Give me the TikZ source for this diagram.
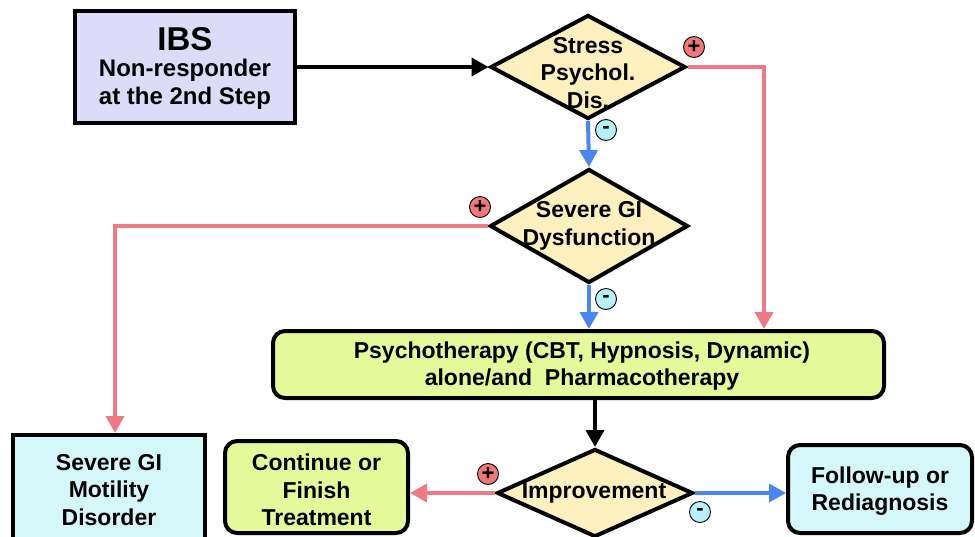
\documentclass[tikz,border=0pt]{standalone}
\usepackage{fontspec}
\setmainfont{Liberation Sans}
\usetikzlibrary{shapes.geometric,arrows.meta}
\definecolor{lav}{HTML}{DCDCF8}
\definecolor{dia}{HTML}{FBF0BE}
\definecolor{psy}{HTML}{E4F99A}
\definecolor{cya}{HTML}{D4F7FA}
\definecolor{redl}{HTML}{EE7A86}
\definecolor{bluel}{HTML}{4A86F2}
\definecolor{plusf}{HTML}{F07878}
\definecolor{minusf}{HTML}{B8F0F8}
\tikzset{
  x=1pt, y=-1pt,
  txt/.style={font=\bfseries\fontsize{23}{27.5}\selectfont, align=center, inner sep=0},
  boxsq/.style={draw, line width=4pt, inner sep=0},
  boxrd/.style={draw, line width=4pt, rounded corners=12pt, inner sep=0},
  dec/.style={draw, line width=4pt, diamond, fill=dia, inner sep=0},
  conn/.style={line width=4pt, -{Triangle[length=17pt,width=18pt]}},
  pluss/.style={circle, draw, line width=0.9pt, fill=plusf, minimum size=21pt, inner sep=0, font=\bfseries\fontsize{22}{22}\selectfont},
  minuss/.style={circle, draw, line width=0.9pt, fill=minusf, minimum size=21pt, inner sep=0, font=\bfseries\fontsize{22}{22}\selectfont}
}
\begin{document}
\begin{tikzpicture}
\useasboundingbox (0,0) rectangle (975,536);
\begin{scope}
\clip (0,0) rectangle (975,536);
% boxes
\node[boxsq, fill=lav, minimum width=220pt, minimum height=112pt] (ibs) at (185,67) {};
\node[txt, align=center] (ibst) at (185,68) {{\fontsize{33}{36}\selectfont IBS}\\[-1pt]{\fontsize{24}{28}\selectfont Non-responder}\\{\fontsize{24}{28}\selectfont at the 2nd Step}};
\node[dec, minimum width=195pt, minimum height=104pt] (stress) at (588,67) {};
\node[txt] (stresst) at (588,73) {Stress\\Psychol.\\Dis.};
\node[dec, minimum width=198pt, minimum height=114pt] (sev) at (589,226) {};
\node[txt] (sevt) at (589,226) {Severe GI\\Dysfunction};
\node[boxrd, fill=psy, minimum width=611pt, minimum height=67pt] (psych) at (578.5,364.5) {};
\node[txt] (psycht) at (582,366) {Psychotherapy (CBT, Hypnosis, Dynamic)\\alone/and\ \ Pharmacotherapy};
\node[dec, minimum width=196pt, minimum height=88pt] (imp) at (595,493) {};
\node[txt] (impt) at (594,493) {Improvement};
\node[boxsq, fill=cya, minimum width=192pt, minimum height=130pt] (mot) at (109,500) {};
\node[txt] (mott) at (109,490) {Severe GI\\Motility\\Disorder};
\node[boxrd, fill=psy, minimum width=183pt, minimum height=92pt] (cont) at (316.5,487) {};
\node[txt] (contt) at (316.5,490) {Continue or\\Finish\\Treatment};
\node[boxrd, fill=cya, minimum width=184pt, minimum height=88pt] (fol) at (880,489) {};
\node[txt] (folt) at (880,491) {Follow-up or\\Rediagnosis};
% connectors
\coordinate (r1) at (764,67);
\coordinate (r2) at (115,226);
\draw[conn, black] (ibs.east |- stress.west) -- (stress.west);
\draw[conn, redl] (stress.east) -- (r1) -- (r1 |- psych.north);
\draw[conn, bluel] (stress.south) -- (sev.north);
\draw[conn, redl] (sev.west) -- (r2) -- (r2 |- mot.north);
\draw[conn, bluel] (sev.south) -- (sev.south |- psych.north);
\draw[conn, black] (imp.north |- psych.south) -- (imp.north);
\draw[conn, redl] (imp.west) -- (imp.west -| cont.east);
\draw[conn, bluel] (imp.east) -- (imp.east -| fol.west);
% signs
\node[pluss] (p1) at (694,47) {+};
\node[minuss] (m1) at (606,130) {-};
\node[pluss] (p2) at (480,207) {+};
\node[minuss] (m2) at (606,299) {-};
\node[pluss] (p3) at (488,474) {+};
\node[minuss] (m3) at (700,512) {-};
\end{scope}
\end{tikzpicture}
\end{document}
